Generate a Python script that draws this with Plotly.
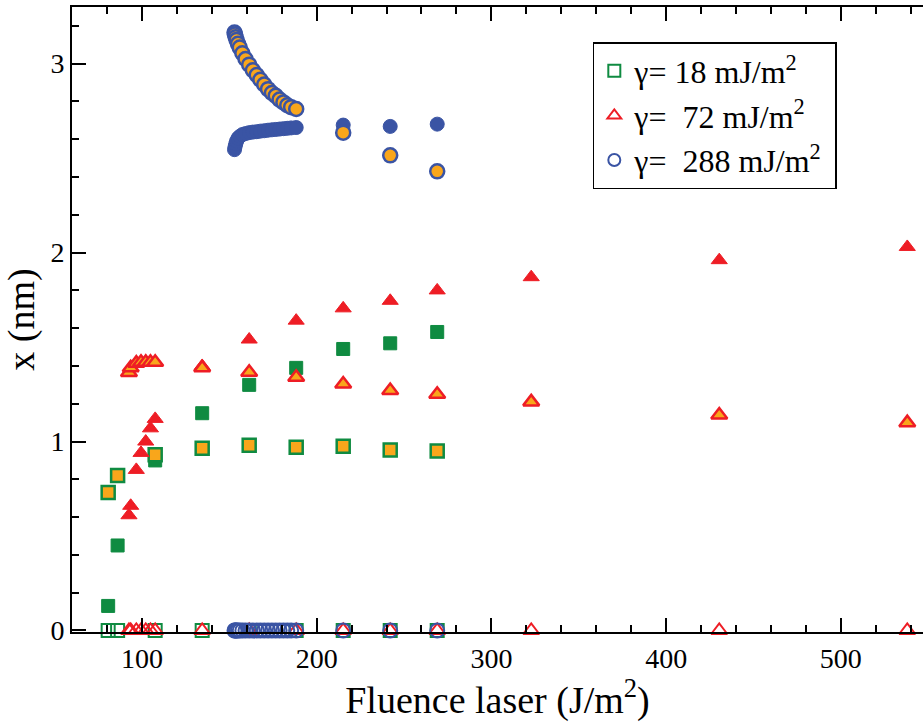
import plotly.graph_objects as go

# ---------------- data ----------------
# gamma = 18 mJ/m^2
fluence_18 = [80.7, 86.1, 107.6, 134.5, 161.4, 188.3, 215.2, 242.1, 269.0]
x18_zero = [0, 0, 0, 0, 0, 0, 0, 0, 0]
x18_upper = [0.13, 0.45, 0.90, 1.15, 1.30, 1.39, 1.49, 1.52, 1.58]
x18_middle = [0.73, 0.82, 0.93, 0.965, 0.98, 0.97, 0.975, 0.955, 0.95]

# gamma = 72 mJ/m^2
fluence_72 = [92.6, 93.6, 96.8, 99.5, 102.2, 104.9, 107.6, 134.5, 161.4,
              188.3, 215.2, 242.1, 269.0, 322.8, 430.4, 538.0]
x72_zero = [0, 0, 0, 0, 0, 0, 0, 0, 0, 0, 0, 0, 0, 0, 0, 0]
x72_upper = [0.61, 0.66, 0.85, 0.94, 1.00, 1.07, 1.12, 1.40, 1.54,
             1.64, 1.705, 1.745, 1.80, 1.87, 1.96, 2.03]
x72_middle = [1.365, 1.39, 1.415, 1.42, 1.42, 1.42, 1.42, 1.39, 1.367,
              1.34, 1.305, 1.27, 1.25, 1.21, 1.14, 1.10]

# gamma = 288 mJ/m^2
fluence_288 = [153.0, 153.3, 153.7, 154.2, 155.0, 156.0, 157.5, 159.3, 161.4,
               163.5, 165.7, 167.8, 170.0, 172.2, 174.4, 176.6, 178.8, 181.0,
               183.2, 185.4, 188.3, 215.2, 242.1, 269.0]
x288_zero = [0, 0, 0, 0, 0, 0, 0, 0, 0, 0, 0, 0, 0, 0, 0, 0, 0, 0, 0, 0, 0, 0, 0, 0]
x288_upper = [2.545, 2.56, 2.575, 2.59, 2.605, 2.615, 2.625, 2.63, 2.635,
              2.638, 2.64, 2.643, 2.645, 2.648, 2.65, 2.652, 2.654, 2.656,
              2.658, 2.66, 2.662, 2.675, 2.668, 2.68]
x288_middle = [3.165, 3.155, 3.14, 3.125, 3.105, 3.085, 3.055, 3.025, 2.995,
               2.965, 2.94, 2.915, 2.89, 2.865, 2.845, 2.83, 2.81, 2.795,
               2.78, 2.77, 2.76, 2.635, 2.515, 2.43]

labels = ["γ= 18 mJ/m<sup>2</sup>\u00a0", "γ=\u00a0 72 mJ/m<sup>2</sup>\u00a0",
          "γ=\u00a0 288 mJ/m<sup>2</sup>\u00a0"]

# ---------------- style ----------------
GREEN = "#0f8b41"
RED = "#ee1d25"
BLUE = "#3a54a4"
ORANGE = "#f9a61b"
FONT = "Liberation Serif, Times New Roman, serif"

series = [
    (fluence_18, x18_zero, x18_upper, x18_middle, GREEN, "square", 13, labels[0]),
    (fluence_72, x72_zero, x72_upper, x72_middle, RED, "triangle-up", 14, labels[1]),
    (fluence_288, x288_zero, x288_upper, x288_middle, BLUE, "circle", 14, labels[2]),
]

fig = go.Figure()
for fl, z, up, mid, col, sym, sz, name in series:
    fig.add_trace(go.Scatter(
        x=fl, y=z, mode="markers", name=name, cliponaxis=False,
        marker=dict(symbol=sym + "-open", size=sz, color=col,
                    line=dict(color=col, width=2))))
    fig.add_trace(go.Scatter(
        x=fl, y=up, mode="markers", showlegend=False, cliponaxis=False,
        marker=dict(symbol=sym, size=sz, color=col,
                    line=dict(color=col, width=1))))
    fig.add_trace(go.Scatter(
        x=fl, y=mid, mode="markers", showlegend=False, cliponaxis=False,
        marker=dict(symbol=sym, size=sz, color=ORANGE,
                    line=dict(color=col, width=2.5))))

fig.update_layout(
    width=923, height=722,
    margin=dict(l=72, r=0, t=7, b=90),
    plot_bgcolor="white", paper_bgcolor="white",
    font=dict(family=FONT, color="black"),
    showlegend=True,
    legend=dict(
        x=0.612, y=0.944, xanchor="left", yanchor="top",
        bordercolor="black", borderwidth=1.5, bgcolor="white",
        font=dict(family=FONT, size=32, color="black"),
        itemsizing="constant",
    ),
    xaxis=dict(
        range=[60, 547],
        title=dict(text="Fluence laser (J/m<sup>2</sup>)",
                   font=dict(family=FONT, size=38), standoff=8),
        tickvals=[100, 200, 300, 400, 500],
        tickfont=dict(family=FONT, size=28),
        ticks="inside", ticklen=14, tickwidth=2, tickcolor="black",
        minor=dict(dtick=20, tick0=0, ticks="inside", ticklen=7,
                   tickwidth=2, tickcolor="black"),
        showline=True, linewidth=2, linecolor="black", mirror="ticks",
        showgrid=False, zeroline=False,
    ),
    yaxis=dict(
        range=[-0.008, 3.3],
        title=dict(text="x (nm)", font=dict(family=FONT, size=38), standoff=10),
        tickvals=[0, 1, 2, 3],
        tickfont=dict(family=FONT, size=28),
        ticks="inside", ticklen=14, tickwidth=2, tickcolor="black",
        minor=dict(dtick=0.2, tick0=0, ticks="inside", ticklen=7,
                   tickwidth=2, tickcolor="black"),
        showline=True, linewidth=2, linecolor="black", mirror=False,
        showgrid=False, zeroline=False,
    ),
)

fig.write_html(
    "out.html",
    config={"displayModeBar": False},
    post_script="document.body.style.margin='0';document.body.style.overflow='hidden';",
)
